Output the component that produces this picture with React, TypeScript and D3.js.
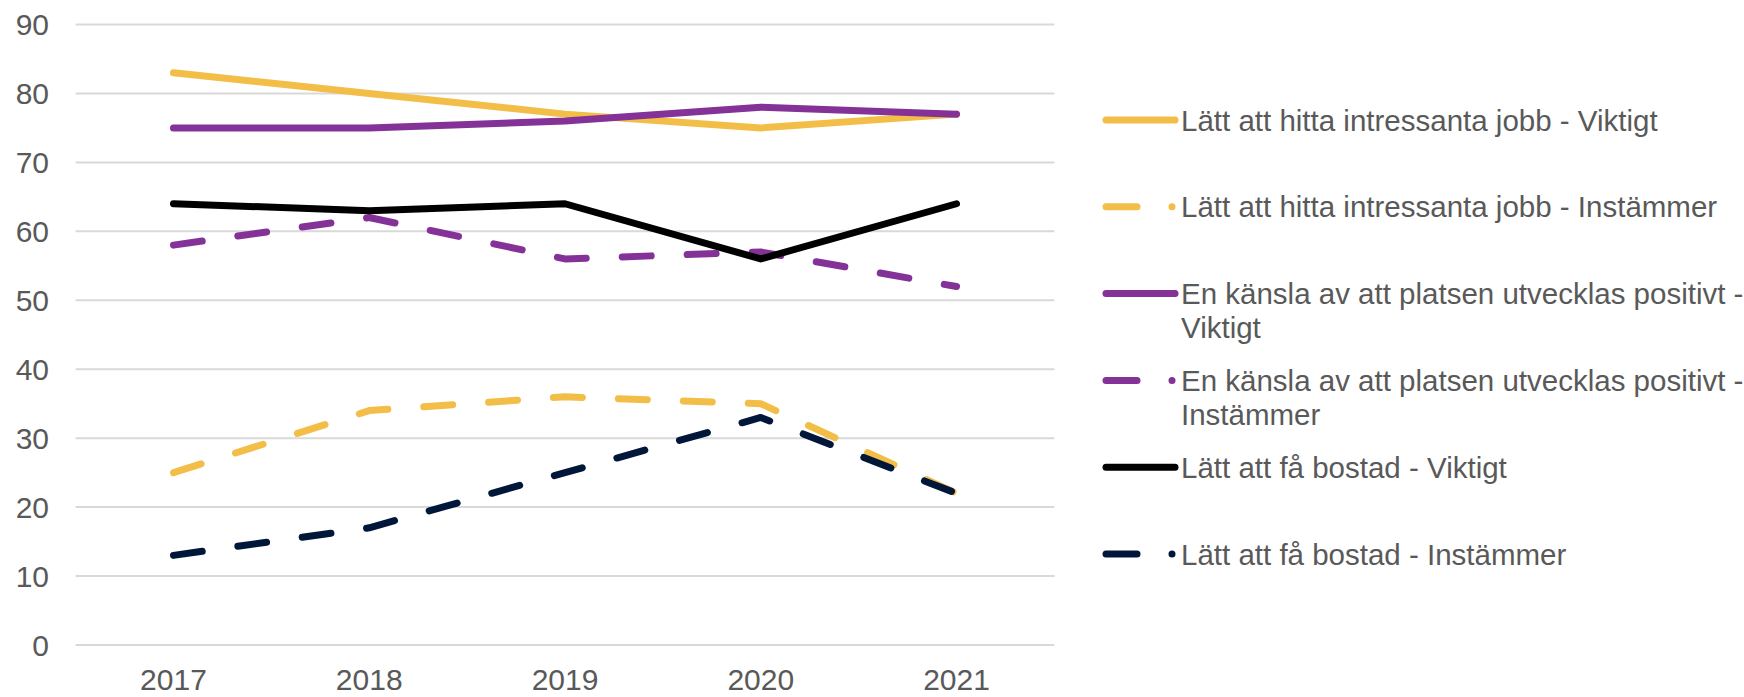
import * as d3 from 'd3'

const years = ['2017', '2018', '2019', '2020', '2021']
const yTicks = [0, 10, 20, 30, 40, 50, 60, 70, 80, 90]

const seriesNames = [
  'Lätt att hitta intressanta jobb - Viktigt',
  'Lätt att hitta intressanta jobb - Instämmer',
  'En känsla av att platsen utvecklas positivt - Viktigt',
  'En känsla av att platsen utvecklas positivt - Instämmer',
  'Lätt att få bostad - Viktigt',
  'Lätt att få bostad - Instämmer',
]
const jobbViktigt = [83, 80, 77, 75, 77]
const jobbInstammer = [25, 34, 36, 35, 22]
const platsViktigt = [75, 75, 76, 78, 77]
const platsInstammer = [58, 62, 56, 57, 52]
const bostadViktigt = [64, 63, 64, 56, 64]
const bostadInstammer = [13, 17, 25, 33, 22]

// legend wraps the long names like the original
const legendLines = [
  ['Lätt att hitta intressanta jobb - Viktigt'],
  ['Lätt att hitta intressanta jobb - Instämmer'],
  ['En känsla av att platsen utvecklas positivt -', 'Viktigt'],
  ['En känsla av att platsen utvecklas positivt -', 'Instämmer'],
  ['Lätt att få bostad - Viktigt'],
  ['Lätt att få bostad - Instämmer'],
]

const colors = ['#F2BE47', '#F2BE47', '#843298', '#843298', '#000000', '#00173A']
const dashed = [false, true, false, true, false, true]
const values = [jobbViktigt, jobbInstammer, platsViktigt, platsInstammer, bostadViktigt, bostadInstammer]

const W = 1744
const H = 697
const plot = { left: 75.6, right: 1054.4, top: 24.5, bottom: 645 }
const font = '"Liberation Sans", Arial, sans-serif'

export default function App() {
  const x = d3.scalePoint().domain(years).range([plot.left, plot.right]).padding(0.5)
  const y = d3.scaleLinear().domain([0, 90]).range([plot.bottom, plot.top])

  const line = d3.line<number>().x((_, i) => x(years[i]) as number).y((d) => y(d))

  const legendX = 1103
  const legendY = (i: number) => 120 + i * 86.8

  return (
    <div style={{ position: 'absolute', left: 0, top: 0 }}>
      <svg width={W} height={H} style={{ display: 'block', background: '#fff' }}>
        <g>
          {yTicks.map((t) => (
            <g key={t}>
              <line x1={plot.left} x2={plot.right} y1={y(t)} y2={y(t)} stroke="#D9D9D9" strokeWidth={2} />
              <text
                x={49}
                y={y(t)}
                dy="0.36em"
                textAnchor="end"
                fontFamily={font}
                fontSize={30}
                fill="#595959"
              >
                {t}
              </text>
            </g>
          ))}
          {years.map((yr) => (
            <text
              key={yr}
              x={x(yr)}
              y={690}
              textAnchor="middle"
              fontFamily={font}
              fontSize={30}
              fill="#595959"
            >
              {yr}
            </text>
          ))}
        </g>

        <g fill="none" strokeLinecap="round" strokeLinejoin="round">
          {values.map((v, i) => (
            <path
              key={seriesNames[i]}
              d={line(v) || ''}
              stroke={colors[i]}
              strokeWidth={7}
              strokeDasharray={dashed[i] ? '29,36' : undefined}
            />
          ))}
        </g>

        <g>
          {seriesNames.map((name, i) => {
            const ly = legendY(i)
            return (
              <g key={name}>
                {dashed[i] ? (
                  <>
                    <line x1={legendX + 3} x2={legendX + 34} y1={ly} y2={ly} stroke={colors[i]} strokeWidth={7} strokeLinecap="round" />
                    <circle cx={1172} cy={ly} r={3.5} fill={colors[i]} />
                  </>
                ) : (
                  <line x1={legendX + 3} x2={1175} y1={ly} y2={ly} stroke={colors[i]} strokeWidth={7} strokeLinecap="round" />
                )}
                <text x={1181} y={ly} fontFamily={font} fontSize={29.5} fill="#595959">
                  {legendLines[i].map((l, k) => (
                    <tspan key={k} x={1181} dy={k === 0 ? '0.36em' : 34}>
                      {l}
                    </tspan>
                  ))}
                </text>
              </g>
            )
          })}
        </g>
      </svg>
    </div>
  )
}
